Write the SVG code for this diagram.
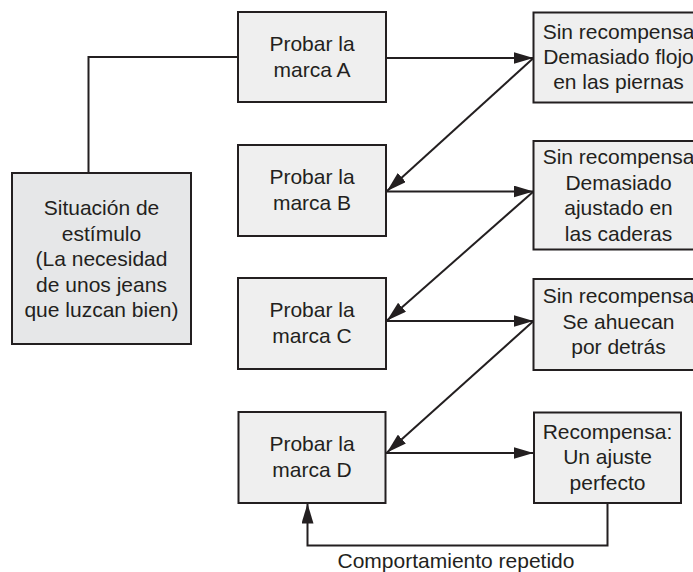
<svg xmlns="http://www.w3.org/2000/svg" width="693" height="572" viewBox="0 0 693 572">
<style>
.box{fill:#efefef;stroke:#231f20;stroke-width:2}
.sit{fill:#e6e7e8;stroke:#231f20;stroke-width:2}
.t{font-family:"Liberation Sans",Arial,sans-serif;font-size:21px;fill:#231f20;text-anchor:middle}
.ln{fill:none;stroke:#231f20;stroke-width:2}
.ar{marker-end:url(#ah)}
</style>
<defs>
<marker id="ah" markerUnits="userSpaceOnUse" markerWidth="21" markerHeight="12" refX="20" refY="6" orient="auto">
<path d="M0,0 L20,6 L0,12 z" fill="#231f20"/>
</marker>
</defs>
<rect width="693" height="572" fill="#ffffff"/>
<g id="connectors">
<path class="ln" d="M88.5,173 V57 H238"/>
<line class="ln ar" x1="386" y1="58" x2="533.5" y2="58"/>
<line class="ln ar" x1="533.5" y1="58" x2="387" y2="191"/>
<line class="ln ar" x1="386" y1="191.5" x2="533.5" y2="191.5"/>
<line class="ln ar" x1="533.5" y1="191.5" x2="387" y2="320.5"/>
<line class="ln ar" x1="386" y1="321" x2="533.5" y2="321"/>
<line class="ln ar" x1="533.5" y1="321" x2="387" y2="452.5"/>
<line class="ln ar" x1="386" y1="453" x2="533.5" y2="453"/>
<path class="ln ar" d="M607.5,503 V545.5 H307.5 V503.5"/>
<text class="t" x="456" y="568">Comportamiento repetido</text>
</g>
<g id="situacion">
<rect class="sit" x="12" y="173" width="179" height="171"/>
<text class="t" x="101.5" y="215">Situación de</text>
<text class="t" x="101.5" y="240.5">estímulo</text>
<text class="t" x="101.5" y="266">(La necesidad</text>
<text class="t" x="101.5" y="291.5">de unos jeans</text>
<text class="t" x="101.5" y="317">que luzcan bien)</text>
</g>
<g id="marcaA">
<rect class="box" x="238" y="12" width="148" height="90"/>
<text class="t" x="312" y="51">Probar la</text>
<text class="t" x="312" y="76.5">marca A</text>
</g>
<g id="marcaB">
<rect class="box" x="238" y="145" width="148" height="91"/>
<text class="t" x="312" y="184">Probar la</text>
<text class="t" x="312" y="209.5">marca B</text>
</g>
<g id="marcaC">
<rect class="box" x="238" y="278" width="148" height="91"/>
<text class="t" x="312" y="317">Probar la</text>
<text class="t" x="312" y="342.5">marca C</text>
</g>
<g id="marcaD">
<rect class="box" x="238.5" y="412" width="147" height="91"/>
<text class="t" x="312" y="451">Probar la</text>
<text class="t" x="312" y="476.5">marca D</text>
</g>
<g id="resA">
<rect class="box" x="533.5" y="12.5" width="170" height="90"/>
<text class="t" x="618.5" y="39">Sin recompensa</text>
<text class="t" x="618.5" y="64">Demasiado flojo</text>
<text class="t" x="618.5" y="89">en las piernas</text>
</g>
<g id="resB">
<rect class="box" x="533.5" y="141" width="170" height="108.5"/>
<text class="t" x="618.5" y="164">Sin recompensa</text>
<text class="t" x="618.5" y="189.5">Demasiado</text>
<text class="t" x="618.5" y="215">ajustado en</text>
<text class="t" x="618.5" y="240.5">las caderas</text>
</g>
<g id="resC">
<rect class="box" x="533.5" y="279" width="170" height="91"/>
<text class="t" x="618.5" y="303">Sin recompensa</text>
<text class="t" x="618.5" y="328.5">Se ahuecan</text>
<text class="t" x="618.5" y="354">por detrás</text>
</g>
<g id="resD">
<rect class="box" x="534" y="412.5" width="147" height="90.5"/>
<text class="t" x="607.5" y="438.5">Recompensa:</text>
<text class="t" x="607.5" y="464">Un ajuste</text>
<text class="t" x="607.5" y="489.5">perfecto</text>
</g>
</svg>
